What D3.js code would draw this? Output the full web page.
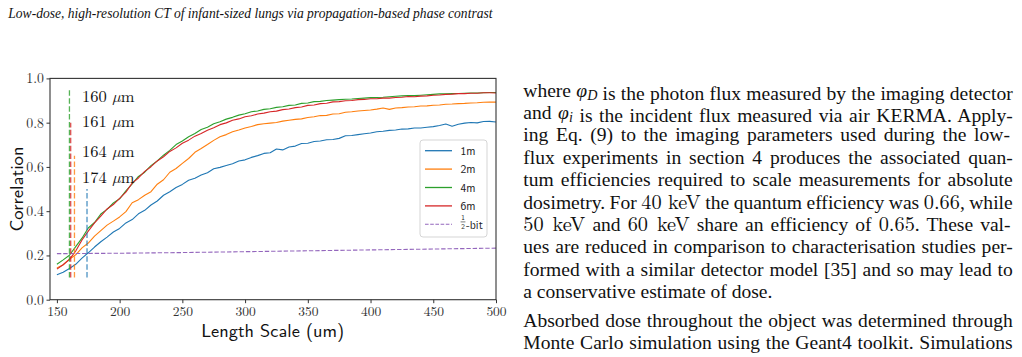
<!DOCTYPE html>
<html>
<head>
<meta charset="utf-8">
<script src="https://cdn.jsdelivr.net/npm/d3@7"></script>
<style>
  body{margin:0;background:#fff}
  svg{display:block}
</style>
</head>
<body>
<div id="chart"></div>
<script>
// sampled length scales (um)
const lengthScale=[
  150,155,160,165,170,175,180,185,190,195,
  200,205,210,215,220,225,230,235,240,245,
  250,255,260,265,270,275,280,285,290,295,
  300,305,310,315,320,325,330,335,340,345,
  350,355,360,365,370,375,380,385,390,395,
  400,405,410,415,420,425,430,435,440,445,
  450,455,460,465,470,475,480,485,490,495,
  500];
const corr1m=[
  .113,.124,.141,.160,.188,.212,.238,.262,.283,.306,
  .322,.347,.362,.388,.404,.428,.446,.472,.488,.507,
  .521,.540,.549,.563,.574,.592,.598,.606,.614,.627,
  .632,.643,.651,.661,.664,.681,.677,.690,.694,.706,
  .707,.715,.717,.723,.724,.729,.741,.742,.746,.750,
  .753,.759,.761,.765,.767,.771,.772,.776,.776,.779,
  .782,.787,.794,.784,.793,.798,.801,.799,.805,.806,
  .803];
const corr2m=[
  .143,.158,.183,.203,.234,.256,.287,.312,.337,.355,
  .374,.398,.438,.452,.472,.488,.522,.542,.576,.593,
  .616,.638,.666,.683,.701,.720,.736,.746,.759,.767,
  .776,.783,.791,.795,.798,.801,.807,.811,.815,.817,
  .823,.827,.832,.833,.839,.840,.847,.849,.853,.855,
  .857,.861,.866,.860,.866,.868,.871,.872,.875,.876,
  .879,.880,.883,.884,.886,.887,.889,.890,.892,.893,
  .893];
const corr4m=[
  .160,.180,.201,.240,.278,.324,.349,.387,.408,.437,
  .456,.492,.523,.557,.576,.606,.627,.653,.675,.701,
  .717,.736,.751,.769,.779,.795,.804,.816,.824,.834,
  .840,.849,.853,.860,.863,.869,.872,.878,.880,.887,
  .889,.895,.896,.900,.902,.904,.906,.907,.909,.911,
  .913,.914,.915,.917,.919,.921,.922,.922,.924,.926,
  .928,.930,.930,.931,.932,.933,.934,.934,.935,.936,
  .936];
const corr6m=[
  .138,.158,.182,.220,.270,.310,.347,.378,.410,.430,
  .458,.486,.527,.550,.580,.601,.627,.646,.670,.686,
  .707,.721,.739,.751,.766,.777,.791,.799,.811,.817,
  .827,.831,.839,.843,.849,.852,.859,.862,.868,.871,
  .878,.880,.886,.888,.894,.895,.899,.900,.904,.905,
  .908,.908,.911,.911,.914,.915,.918,.917,.920,.921,
  .924,.925,.928,.929,.931,.931,.933,.933,.935,.935,
  .934];
const halfBitX=[150,200,250,300,350,400,450,500];
const halfBit=[.208,.210,.213,.217,.221,.225,.229,.233];
const seriesNames=["1m","2m","4m","6m"];
const cutoffX=[174,164,160,161];
const cutoffTop=[.5,.65,.95,.8];
const cutoffLabels=["160","161","164","174"];
const xTicks=[150,200,250,300,350,400,450,500];
const yTicks=[0,.2,.4,.6,.8,1];

const pageHeader="Low-dose, high-resolution CT of infant-sized lungs via propagation-based phase contrast";
// $...$ = math font, φ_X = phi with subscript
const paragraphs=[
  ["where φ_D is the photon flux measured by the imaging detector",
   "and φ_i is the incident flux measured via air KERMA. Apply-",
   "ing Eq.  (9) to the imaging parameters used during the low-",
   "flux experiments in section 4 produces the associated quan-",
   "tum efficiencies required to scale measurements for absolute",
   "dosimetry. For $40 keV$ the quantum efficiency was $0.66$, while",
   "$50 keV$ and $60 keV$ share an efficiency of $0.65$.  These val-",
   "ues are reduced in comparison to characterisation studies per-",
   "formed with a similar detector model [35] and so may lead to",
   "a conservative estimate of dose."],
  ["Absorbed dose throughout the object was determined through",
   "Monte Carlo simulation using the Geant4 toolkit. Simulations"]
];

const colors=["#1f77b4","#ff7f0e","#2ca02c","#d62728"];
const cutColors=["#1f77b4","#ff7f0e","#2ca02c","#d62728"];
const serif="'Liberation Serif','Times New Roman',serif";
const cm="'Latin Modern Roman','Liberation Serif',serif";
const cmss="'Latin Modern Sans','DejaVu Sans',sans-serif";

const svg=d3.select("#chart").append("svg").attr("width",1022).attr("height",357);

function fitWidth(t,target){
  const w=t.node().getComputedTextLength();
  t.attr("font-size",+t.attr("font-size")*target/w);
}

// running header
const head=svg.append("text").attr("x",8.3).attr("y",18.3)
  .attr("font-family",serif).attr("font-style","italic").attr("font-size",15)
  .attr("fill","#111").text(pageHeader);
fitWidth(head,485);

// ---- chart ----
const x=d3.scaleLinear().domain([144.5,500]).range([50,496]);
const y=d3.scaleLinear().domain([0,1]).range([299.7,78.4]);

svg.append("g").attr("transform","translate(0,299.7)")
  .call(d3.axisBottom(x).tickValues(xTicks).tickSize(3.5).tickPadding(3).tickFormat(d3.format("d")))
  .call(g=>g.select(".domain").remove())
  .call(g=>g.selectAll("line").attr("stroke","#333"))
  .call(g=>g.selectAll("text").attr("font-family",cm).attr("font-size",13.5).attr("fill","#333"));
svg.append("g").attr("transform","translate(50,0)")
  .call(d3.axisLeft(y).tickValues(yTicks).tickSize(3.5).tickPadding(2.5).tickFormat(d3.format(".1f")))
  .call(g=>g.select(".domain").remove())
  .call(g=>g.selectAll("line").attr("stroke","#333"))
  .call(g=>g.selectAll("text").attr("font-family",cm).attr("font-size",13.8).attr("fill","#333"));

const line=d3.line().x((d,i)=>x(lengthScale[i])).y(d=>y(d));
[corr1m,corr2m,corr4m,corr6m].forEach((s,i)=>{
  svg.append("path").attr("d",line(s)).attr("fill","none")
    .attr("stroke",colors[i]).attr("stroke-width",1.1).attr("stroke-linejoin","round");
});
svg.append("path")
  .attr("d",d3.line().x((d,i)=>x(halfBitX[i])).y(d=>y(d))(halfBit))
  .attr("fill","none").attr("stroke","#9467bd").attr("stroke-width",1.1).attr("stroke-dasharray","4.4,1.9");

svg.selectAll(".cut").data(cutoffX).join("line")
  .attr("x1",d=>x(d)).attr("x2",d=>x(d))
  .attr("y1",y(.1)).attr("y2",(d,i)=>y(cutoffTop[i]))
  .attr("stroke",(d,i)=>cutColors[i]).attr("stroke-opacity",.8)
  .attr("stroke-width",1.3).attr("stroke-dasharray","5.5,2.4");

const labelY=[.892,.779,.645,.526];
cutoffLabels.forEach((l,i)=>{
  const t=svg.append("text").attr("x",x(170)).attr("y",y(labelY[i]))
    .attr("font-family",cm).attr("font-size",16.5).attr("fill","#111");
  t.append("tspan").text(l+" ");
  t.append("tspan").attr("font-style","italic").text("\u00b5");
  t.append("tspan").text("m");
});

svg.append("rect").attr("x",50).attr("y",78.4).attr("width",446).attr("height",221.3)
  .attr("fill","none").attr("stroke","#333").attr("stroke-width",1.1);

svg.append("text").attr("transform","translate(22.5,189) rotate(-90)")
  .attr("text-anchor","middle").attr("font-family",cmss).attr("font-size",18.3)
  .attr("textLength",85).attr("lengthAdjust","spacingAndGlyphs").attr("fill","#111").text("Correlation");
svg.append("text").attr("x",272.7).attr("y",337.2)
  .attr("text-anchor","middle").attr("font-family",cmss).attr("font-size",18.3)
  .attr("textLength",143).attr("lengthAdjust","spacingAndGlyphs").attr("fill","#111").text("Length Scale (um)");

// legend
const lg=svg.append("g");
lg.append("rect").attr("x",420).attr("y",140).attr("width",67).attr("height",97).attr("rx",3)
  .attr("fill","#fff").attr("fill-opacity",.8).attr("stroke","#d0d0d0").attr("stroke-width",.9);
seriesNames.forEach((n,i)=>{
  const yy=150.7+i*18.4;
  lg.append("line").attr("x1",425).attr("x2",452).attr("y1",yy).attr("y2",yy)
    .attr("stroke",colors[i]).attr("stroke-width",1.3);
  lg.append("text").attr("x",460.5).attr("y",yy+4).attr("font-family",cmss).attr("font-size",11.6)
    .attr("fill","#222").text(n);
});
{
  const yy=150.7+4*18.4;
  lg.append("line").attr("x1",425).attr("x2",452).attr("y1",yy).attr("y2",yy)
    .attr("stroke","#9467bd").attr("stroke-width",1.1).attr("stroke-dasharray","3.6,1.6");
  lg.append("text").attr("x",463).attr("y",219.8).attr("text-anchor","middle")
    .attr("font-family",cmss).attr("font-size",7.2).attr("fill","#222").text("1");
  lg.append("line").attr("x1",460.6).attr("x2",465.4).attr("y1",221.9).attr("y2",221.9)
    .attr("stroke","#222").attr("stroke-width",.6);
  lg.append("text").attr("x",463).attr("y",229.3).attr("text-anchor","middle")
    .attr("font-family",cmss).attr("font-size",7.2).attr("fill","#222").text("2");
  lg.append("text").attr("x",466).attr("y",228.8).attr("font-family",cmss).attr("font-size",11.6)
    .attr("fill","#222").text("-bit");
}

// ---- body text column ----
const colX=523.3, colW=489.4;
function addLine(str,yy,size){
  const t=svg.append("text").attr("x",colX).attr("y",yy).attr("font-family",serif)
    .attr("font-size",size).attr("fill","#111");
  str.split(/(\$[^$]+\$|φ_[A-Za-z])/).forEach(part=>{
    if(/^φ_/.test(part)){
      t.append("tspan").attr("font-style","italic").text("φ");
      t.append("tspan").attr("font-style","italic").attr("font-size",size*.72).attr("dy",3).text(part.slice(2));
      t.append("tspan").attr("dy",-3).text("");
    } else if(/^\$/.test(part)){
      t.append("tspan").attr("font-family",cm).attr("font-size",size*1.04).text(part.slice(1,-1));
    } else if(part) t.append("tspan").text(part);
  });
  return t;
}
// calibrate the font so the short last line of paragraph one has its printed width
const probe=addLine(paragraphs[0][9],0,16);
const fs=16*249.4/probe.node().getComputedTextLength();
probe.remove();
const baseY=[[96.5,118.9,141.3,163.7,186.1,208.5,230.9,253.3,275.7,298.1],[327,349.4]];
paragraphs.forEach((p,pi)=>p.forEach((str,li)=>{
  const t=addLine(str,baseY[pi][li],fs);
  const last=pi===0&&li===p.length-1;
  if(!last){
    const w=t.node().getComputedTextLength();
    const spaces=(str.match(/ /g)||[]).length;
    t.attr("word-spacing",(colW-w)/spaces);
  }
}));
</script>
</body>
</html>
